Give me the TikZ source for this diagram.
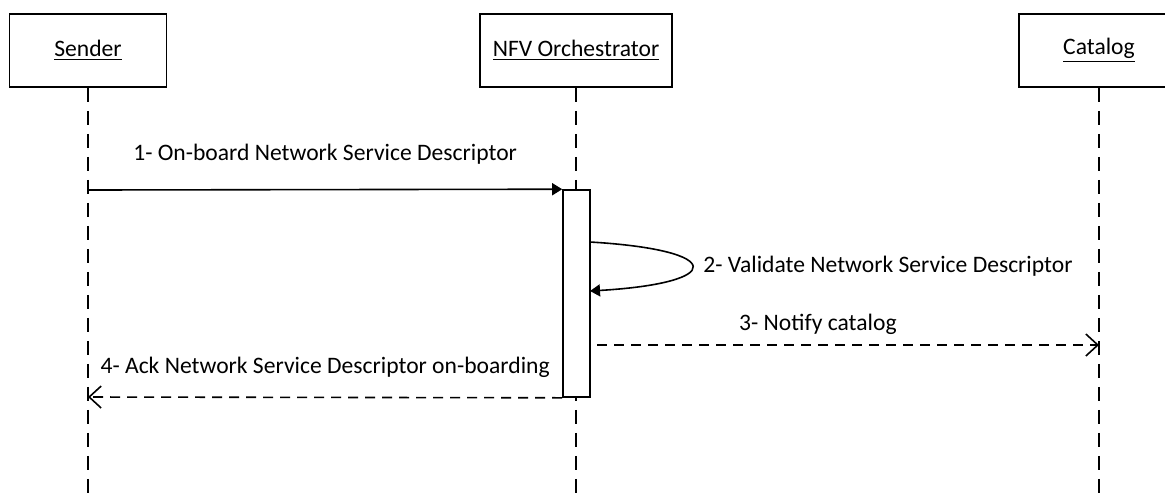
\documentclass[tikz,border=0pt]{standalone}
\usepackage{fontspec}
\setmainfont{Carlito}
\usetikzlibrary{arrows.meta, positioning}

\begin{document}
\begin{tikzpicture}[x=0.5pt, y=-0.5pt, font=\fontsize{11.8}{13}\selectfont, line width=0.8pt,
  actor/.style={draw, minimum height=36.5pt, inner sep=0pt},
  lifeline/.style={dash pattern=on 7pt off 4.5pt},
  reply/.style={dash pattern=on 5pt off 3.5pt, -{Straight Barb[length=6pt,width=11pt]}},
  call/.style={-{Triangle[length=5pt,width=6pt]}}]
\useasboundingbox (0,0) rectangle (1165,499);
\clip (0,0) rectangle (1165,499);

% Participants
\node[actor, minimum width=78.5pt] (sender) at (88,50.5) {\underline{Sender}};
\node[actor, minimum width=96pt] (nfvo) at (576,50.5) {\underline{NFV Orchestrator}};
\node[actor, minimum width=80pt] (catalog) at (1099,50.5) {\underline{Catalog}};

% Lifelines
\coordinate (sender end) at (88,505);
\coordinate (nfvo end) at (576,505);
\coordinate (catalog end) at (1099,505);
\draw[lifeline] (sender) -- (sender end);
\draw[lifeline] (nfvo) -- (nfvo end);
\draw[lifeline] (catalog) -- (catalog end);

% Activation
\node[draw, fill=white, minimum width=13.5pt, minimum height=103.5pt, inner sep=0pt] (act) at (576.5,293.5) {};

% Messages
\coordinate (m1) at (88,190);
\draw[call] (m1) -- (act.north west) node[midway, above=9pt] (l1) {1- On-board Network Service Descriptor};

\coordinate (self out) at (590,242);
\coordinate (self in) at (590,291);
\draw[call] (self out) .. controls (726,250) and (726,283) .. (self in)
  node[pos=0.5, right=2pt] (l2) {2- Validate Network Service Descriptor};

\coordinate (m3 start) at (597,345);
\coordinate (m3 end) at (1099,345);
\draw[reply] (m3 start) -- (m3 end) node[pos=0.44, above=1.5pt] (l3) {3- Notify catalog};

\coordinate (m4 end) at (88,397);
\draw[reply] (act.south west) -- (m4 end) node[midway, above=6pt] (l4) {4- Ack Network Service Descriptor on-boarding};
\end{tikzpicture}
\end{document}
